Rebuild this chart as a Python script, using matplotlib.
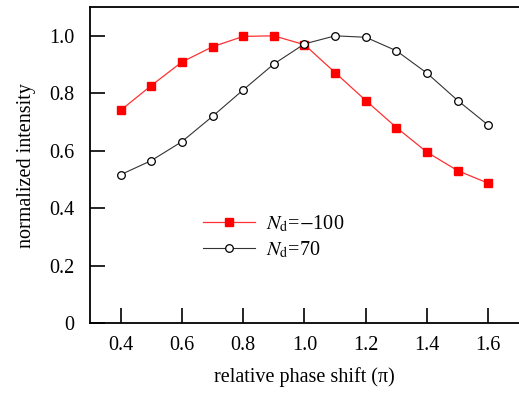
import matplotlib
matplotlib.use('Agg')
import matplotlib.pyplot as plt

plt.rcParams['font.family'] = 'Liberation Serif'
plt.rcParams['mathtext.fontset'] = 'stix'

phase = [0.4, 0.5, 0.6, 0.7, 0.8, 0.9, 1.0, 1.1, 1.2, 1.3, 1.4, 1.5, 1.6]
nd_neg100 = [0.741, 0.827, 0.909, 0.962, 0.998, 1.0, 0.969, 0.872, 0.775, 0.681, 0.595, 0.531, 0.487]
nd_70 = [0.517, 0.566, 0.632, 0.720, 0.812, 0.902, 0.972, 1.0, 0.995, 0.948, 0.870, 0.775, 0.689]

fs = 14.5

fig = plt.figure(figsize=(5.19, 3.93), dpi=100)
ax = fig.add_axes([0.1734, 0.1773, 0.8266, 0.8047])

ax.plot(phase, nd_neg100, color='#ff3030', lw=0.9, marker='s', ms=5.5,
        mfc='red', mec='red', label=r'$N_{\rm d}$=$-$100')
ax.plot(phase, nd_70, color='#333333', lw=0.8, marker='o', ms=5.5,
        mfc='white', mec='black', mew=0.9, label=r'$N_{\rm d}$=70')

ax.set_xlim(0.3, 1.7)
ax.set_ylim(0, 1.1)
ax.set_xticks([0.4, 0.6, 0.8, 1.0, 1.2, 1.4, 1.6])
ax.set_yticks([0, 0.2, 0.4, 0.6, 0.8, 1.0])
ax.set_yticklabels(['0', '0.2', '0.4', '0.6', '0.8', '1.0'])
ax.tick_params(direction='in', length=11, width=1.2, labelsize=fs)
ax.tick_params(axis='x', pad=9)
ax.tick_params(axis='y', pad=11)
ax.spines['right'].set_visible(False)
for s in ['left', 'top', 'bottom']:
    ax.spines[s].set_linewidth(1.3)

ax.set_xlabel('relative phase shift (π)', fontsize=fs, labelpad=9)
ax.set_ylabel('normalized intensity', fontsize=fs, labelpad=10)

ax.legend(loc='upper left', bbox_to_anchor=(0.22, 0.405), frameon=False,
          numpoints=1, fontsize=fs, handlelength=2.6, labelspacing=0.25,
          handletextpad=0.55)

fig.savefig('out.png', dpi=100)
